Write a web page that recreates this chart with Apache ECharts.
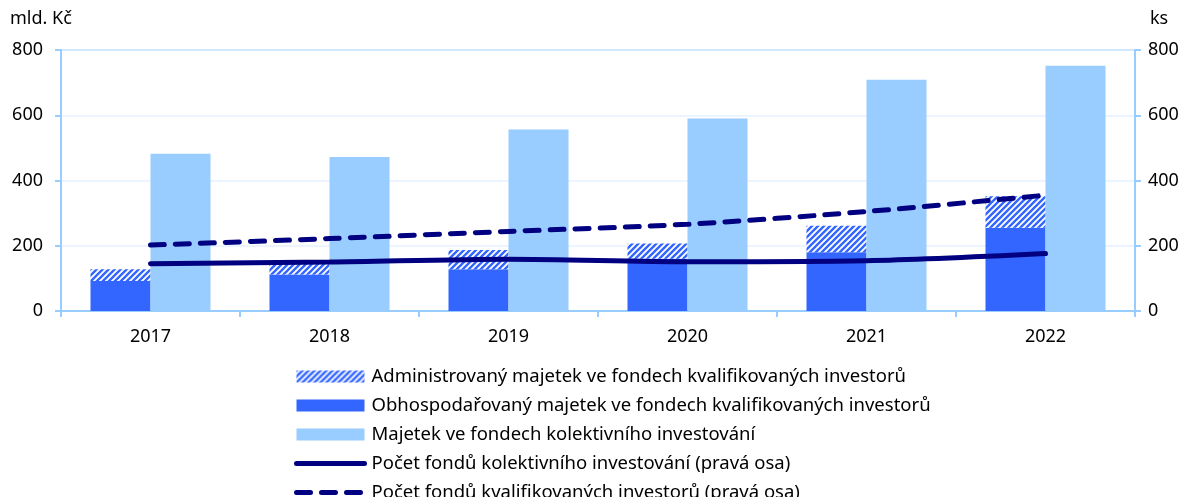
<!DOCTYPE html>
<html>
<head>
<meta charset="utf-8">
<script src="https://cdn.jsdelivr.net/npm/echarts@6/dist/echarts.min.js"></script>
<style>
html, body { margin: 0; padding: 0; background: #fff; }
#main { width: 1184px; height: 497px; }
</style>
</head>
<body>
<div id="main"></div>
<script>
// data
var years = ['2017', '2018', '2019', '2020', '2021', '2022'];
var obhospodarovany = [92, 112, 128, 160, 180, 255];
var administrovany = [36, 33, 59, 47, 81, 97];
var kolektivni = [482, 472, 556, 590, 709, 752];
var pocetKolektivni = [145, 150, 159, 151, 154, 176];
var pocetKvalifikovani = [202, 222, 244, 266, 305, 355];

var font = 'Noto Sans';
var axisBlue = '#99ccff';

// hatch pattern for the administered assets
var pc = document.createElement('canvas');
pc.width = 6; pc.height = 6;
var ctx = pc.getContext('2d');
ctx.fillStyle = '#ffffff';
ctx.fillRect(0, 0, 6, 6);
ctx.strokeStyle = '#3366ff';
ctx.lineWidth = 2.4;
ctx.beginPath();
ctx.moveTo(-3, 3); ctx.lineTo(3, -3);
ctx.moveTo(0, 6); ctx.lineTo(6, 0);
ctx.moveTo(3, 9); ctx.lineTo(9, 3);
ctx.stroke();
var hatch = { image: pc, repeat: 'repeat' };

var myChart = echarts.init(document.getElementById('main'));

var option = {
    backgroundColor: '#fff',
    animation: false,
    textStyle: { fontFamily: font },
    grid: {
        left: 61, right: 49, top: 50, bottom: 186,
        show: true, borderColor: axisBlue, borderWidth: 2
    },
    graphic: [
        { type: 'text', left: 10, top: 10, style: { text: 'mld. Kč', font: '18px "Noto Sans"', fill: '#000' } },
        { type: 'text', left: 1150, top: 10, style: { text: 'ks', font: '18px "Noto Sans"', fill: '#000' } }
    ],
    legend: {
        orient: 'vertical',
        left: 289,
        top: 362,
        height: 300,
        itemWidth: 68,
        itemHeight: 12,
        itemGap: 10,
        lineStyle: { width: 5, cap: 'round' },
        textStyle: { fontFamily: font, fontSize: 18.5, color: '#000', padding: [0, 0, 0, 2] },
        data: [
            { name: 'Administrovaný majetek ve fondech kvalifikovaných investorů', icon: 'rect' },
            { name: 'Obhospodařovaný majetek ve fondech kvalifikovaných investorů', icon: 'rect' },
            { name: 'Majetek ve fondech kolektivního investování', icon: 'rect' },
            { name: 'Počet fondů kolektivního investování (pravá osa)', itemStyle: { opacity: 0 } },
            { name: 'Počet fondů kvalifikovaných investorů (pravá osa)', itemStyle: { opacity: 0 } }
        ]
    },
    xAxis: {
        type: 'category',
        data: years,
        axisLine: { lineStyle: { color: axisBlue, width: 2 } },
        axisTick: { show: true, interval: 0, length: 6, lineStyle: { color: axisBlue, width: 2 } },
        axisLabel: { color: '#000', fontSize: 18, margin: 17, fontFamily: font },
        splitLine: { show: false }
    },
    yAxis: [
        {
            type: 'value', min: 0, max: 800, interval: 200,
            axisLine: { show: true, lineStyle: { color: axisBlue, width: 2 } },
            axisTick: { show: true, length: 6, lineStyle: { color: axisBlue, width: 2 } },
            axisLabel: { color: '#000', fontSize: 18, margin: 18, fontFamily: font },
            splitLine: { show: true, lineStyle: { color: '#e6f2ff', width: 1.5 } }
        },
        {
            type: 'value', min: 0, max: 800, interval: 200, position: 'right',
            axisLine: { show: true, lineStyle: { color: axisBlue, width: 2 } },
            axisTick: { show: true, length: 6, lineStyle: { color: axisBlue, width: 2 } },
            axisLabel: { color: '#000', fontSize: 18, margin: 13, fontFamily: font },
            splitLine: { show: false }
        }
    ],
    series: [
        {
            name: 'Obhospodařovaný majetek ve fondech kvalifikovaných investorů',
            type: 'bar', stack: 'fki', barWidth: 60, barGap: '0%',
            itemStyle: { color: '#3366ff' },
            data: obhospodarovany
        },
        {
            name: 'Administrovaný majetek ve fondech kvalifikovaných investorů',
            type: 'bar', stack: 'fki', barWidth: 60, barGap: '0%',
            itemStyle: { color: hatch },
            data: administrovany
        },
        {
            name: 'Majetek ve fondech kolektivního investování',
            type: 'bar', barWidth: 60, barGap: '0%',
            itemStyle: { color: '#99ccff' },
            data: kolektivni
        },
        {
            name: 'Počet fondů kolektivního investování (pravá osa)',
            type: 'line', yAxisIndex: 1, smooth: 0.3, symbol: 'none', z: 5,
            lineStyle: { color: '#000080', width: 5, cap: 'round' },
            itemStyle: { color: '#000080' },
            data: pocetKolektivni
        },
        {
            name: 'Počet fondů kvalifikovaných investorů (pravá osa)',
            type: 'line', yAxisIndex: 1, smooth: 0.3, symbol: 'none', z: 5,
            lineStyle: { color: '#000080', width: 5, type: [14, 11], cap: 'round' },
            itemStyle: { color: '#000080' },
            data: pocetKvalifikovani
        }
    ]
};

myChart.setOption(option);
</script>
</body>
</html>
